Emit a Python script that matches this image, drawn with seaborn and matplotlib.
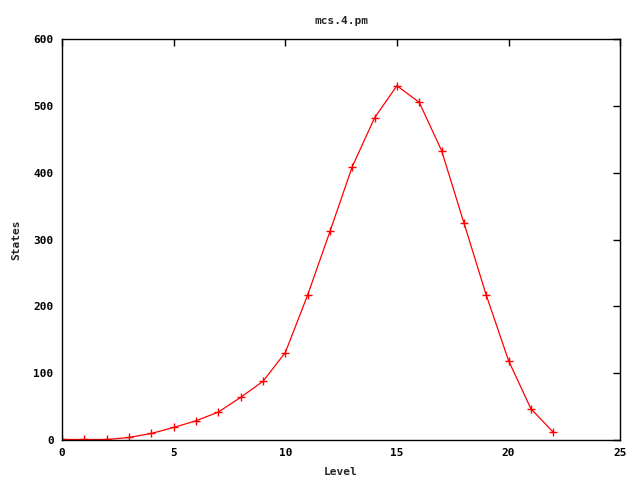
import matplotlib
matplotlib.use('Agg')
import matplotlib.pyplot as plt
import seaborn as sns
import pandas as pd

# values
levels = list(range(23))
states = [1, 1, 1, 4, 10, 19, 29, 42, 64, 88, 131, 217, 312, 409, 482, 530,
          505, 433, 325, 217, 119, 47, 12]

x_ticks = [0, 5, 10, 15, 20, 25]
y_ticks = [0, 100, 200, 300, 400, 500, 600]

sns.set_style("white")
plt.rcParams.update({
    'font.family': ['DejaVu Sans Mono'],
    'font.weight': 'bold',
    'font.size': 8,
})

df = pd.DataFrame({'Level': levels, 'States': states})

fig, ax = plt.subplots(figsize=(6.4, 4.8), dpi=100)
fig.subplots_adjust(left=0.097, right=0.969, top=0.919, bottom=0.083)

sns.lineplot(data=df, x='Level', y='States', ax=ax, color='#ff0000',
             linewidth=0.9, marker='+', markersize=6, markeredgewidth=1.0,
             markeredgecolor='#ff0000')

ax.set_xlim(0, 25)
ax.set_ylim(0, 600)
ax.set_xticks(x_ticks)
ax.set_yticks(y_ticks)
ax.tick_params(direction='in', top=True, right=True, length=5, width=1,
               colors='black', labelsize=8, pad=6)
for lab in ax.get_xticklabels() + ax.get_yticklabels():
    lab.set_fontweight('bold')
for sp in ax.spines.values():
    sp.set_color('black')
    sp.set_linewidth(1)

ax.set_title('mcs.4.pm', fontsize=8, fontweight='bold', pad=11)
ax.set_xlabel('Level', fontsize=8, fontweight='bold', labelpad=6)
ax.set_ylabel('States', fontsize=8, fontweight='bold', labelpad=9)

fig.savefig('out.png', dpi=100, facecolor='white')
